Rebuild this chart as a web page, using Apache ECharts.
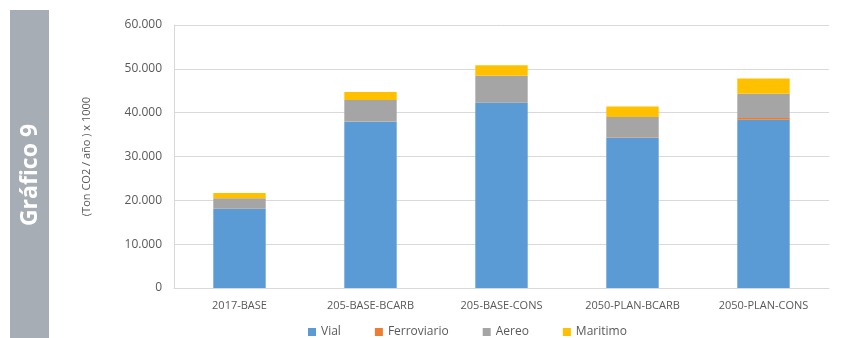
<!DOCTYPE html>
<html>
<head>
<meta charset="utf-8">
<script src="https://cdn.jsdelivr.net/npm/echarts@6/dist/echarts.min.js"></script>
<style>
html, body { margin: 0; padding: 0; background: #fff; }
#chart { width: 847px; height: 338px; }
</style>
</head>
<body>
<div id="chart"></div>
<script>
const categories = ['2017-BASE', '205-BASE-BCARB', '205-BASE-CONS', '2050-PLAN-BCARB', '2050-PLAN-CONS']
const vial = [18000, 37900, 42300, 34300, 38400]
const ferroviario = [100, 100, 100, 100, 400]
const aereo = [2400, 4900, 6000, 4600, 5500]
const maritimo = [1200, 1800, 2400, 2400, 3500]
const yTicks = [0, 10000, 20000, 30000, 40000, 50000, 60000]

const chart = echarts.init(document.getElementById('chart'))
const font = 'Open Sans, Liberation Sans, sans-serif'

function mk(name, data, color) {
    return {
        name: name,
        type: 'bar',
        stack: 'total',
        barWidth: '40%',
        itemStyle: { color: color },
        data: data
    }
}

chart.setOption({
    animation: false,
    graphic: [{
        type: 'rect',
        shape: { x: 10, y: 10, width: 39, height: 328 },
        style: { fill: '#a6adb4' }
    }, {
        type: 'text',
        x: 30,
        y: 175,
        rotation: Math.PI / 2,
        style: {
            text: 'Gráfico 9',
            fill: '#fff',
            font: 'bold 23px ' + font,
            align: 'center',
            verticalAlign: 'middle'
        }
    }],
    grid: { left: 174, right: 18, top: 25, bottom: 50 },
    legend: {
        top: 321,
        left: 303,
        itemWidth: 8,
        itemHeight: 8,
        itemGap: 34,
        icon: 'rect',
        textStyle: { color: '#595959', fontSize: 12, fontFamily: font },
        data: ['Vial', 'Ferroviario', 'Aereo', 'Maritimo']
    },
    xAxis: {
        type: 'category',
        data: categories,
        axisLine: { lineStyle: { color: '#d9d9d9' } },
        axisTick: { show: false },
        axisLabel: { color: '#595959', fontSize: 11, fontFamily: font, margin: 12 }
    },
    yAxis: {
        type: 'value',
        min: yTicks[0],
        max: yTicks[yTicks.length - 1],
        interval: 10000,
        name: '(Ton CO2 / año ) x 1000',
        nameLocation: 'middle',
        nameGap: 82,
        nameTextStyle: { color: '#595959', fontSize: 11, fontFamily: font },
        axisLine: { show: true, lineStyle: { color: '#d9d9d9' } },
        axisTick: { show: false },
        splitLine: { lineStyle: { color: '#d9d9d9' } },
        axisLabel: {
            color: '#595959',
            fontSize: 12,
            fontFamily: font,
            margin: 12,
            formatter: v => v === 0 ? '0' : (v / 1000) + '.000'
        }
    },
    series: [
        mk('Vial', vial, '#5b9bd5'),
        mk('Ferroviario', ferroviario, '#ed7d31'),
        mk('Aereo', aereo, '#a5a5a5'),
        mk('Maritimo', maritimo, '#ffc000')
    ]
})
</script>
</body>
</html>
